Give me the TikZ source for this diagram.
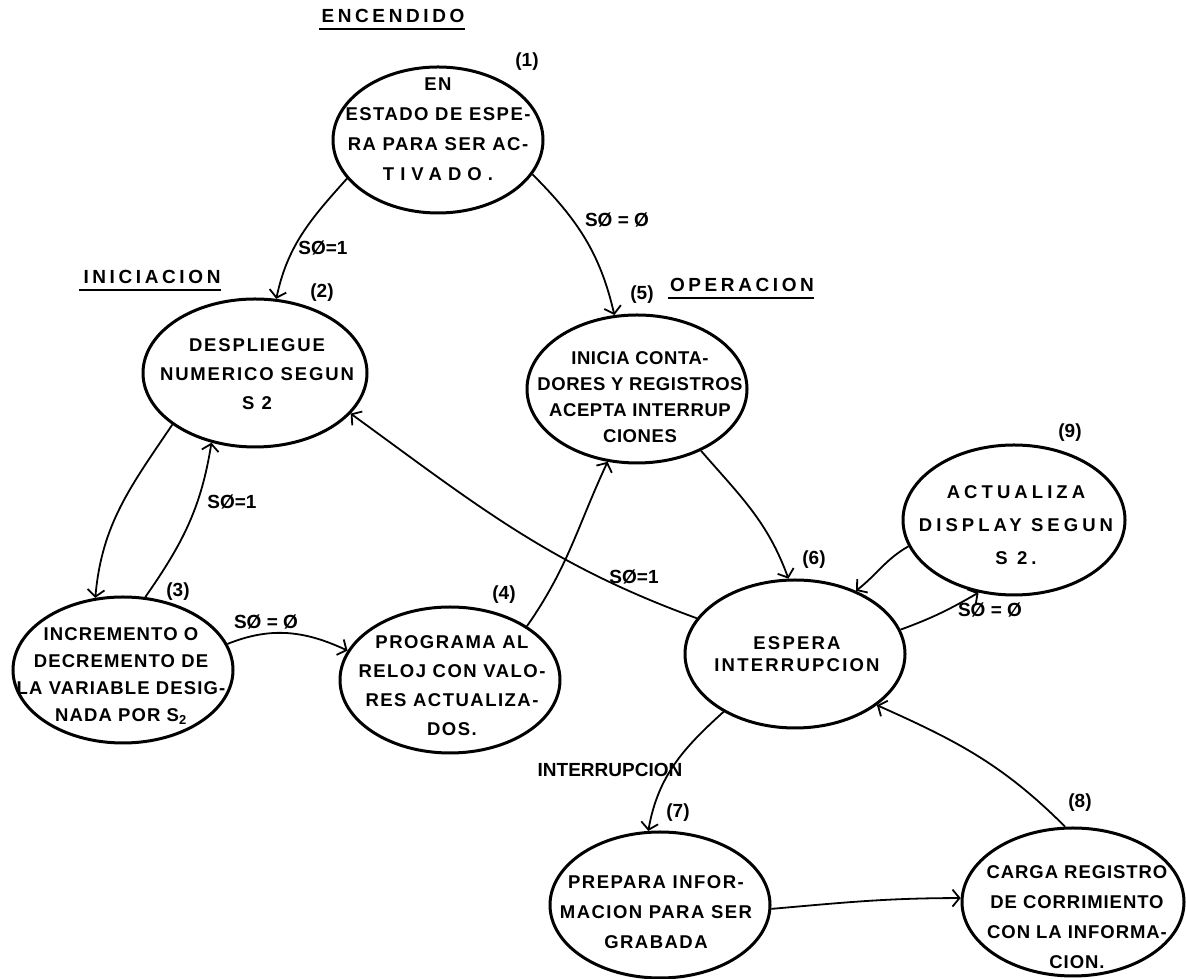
\documentclass[tikz,border=0pt]{standalone}
\usepackage{fontspec}
\setmainfont{Liberation Sans}
\usetikzlibrary{arrows.meta,shapes.geometric}

\tikzset{
  stbox/.style={draw, ellipse, line width=3pt, inner sep=0pt},
  % state text: #1 = line spacing, #2 = letter spacing
  txt/.style 2 args={align=center, inner sep=0pt,
    font=\fontsize{18.5}{#1}\selectfont\bfseries\addfontfeature{LetterSpace=#2}},
  lbl/.style={inner sep=0pt, font=\fontsize{19}{20}\selectfont\bfseries},
  head/.style={inner sep=0pt, font=\fontsize{19}{20}\selectfont\bfseries\addfontfeature{LetterSpace=19}},
  uline/.style={line width=2.2pt},
  tr/.style={line width=1.8pt, -{Straight Barb[length=7pt,width=17pt,line width=1.8pt]}},
}

\begin{document}
\begin{tikzpicture}[x=1pt,y=1pt]
\useasboundingbox (0,0) rectangle (1186,979);
\fill[white] (0,0) rectangle (1186,979);

% section headings
\node[head] (hEnc) at (393,963) {ENCENDIDO};
\node[head] (hIni) at (152,702) {INICIACION};
\node[head] (hOpe) at (742,694) {OPERACION};
\draw[uline] ([yshift=-6pt,xshift=-2pt]hEnc.south west) -- ([yshift=-6pt]hEnc.south east);
\draw[uline] ([yshift=-6pt,xshift=-4pt]hIni.south west) -- ([yshift=-6pt]hIni.south east);
\draw[uline] ([yshift=-6pt,xshift=-2pt]hOpe.south west) -- ([yshift=-6pt]hOpe.south east);

% states
\node[stbox, minimum width=210pt, minimum height=146pt] (s1) at (438,839) {};
\node[stbox, minimum width=224pt, minimum height=148pt] (s2) at (255,606) {};
\node[stbox, minimum width=220pt, minimum height=146pt] (s3) at (123,309) {};
\node[stbox, minimum width=220pt, minimum height=146pt] (s4) at (450,299) {};
\node[stbox, minimum width=220pt, minimum height=148pt] (s5) at (637,590) {};
\node[stbox, minimum width=220pt, minimum height=148pt] (s6) at (795,325) {};
\node[stbox, minimum width=220pt, minimum height=146pt] (s7) at (660,74) {};
\node[stbox, minimum width=222pt, minimum height=148pt] (s8) at (1073,77) {};
\node[stbox, minimum width=222pt, minimum height=150pt] (s9) at (1014,459) {};

% state texts
\node[txt={30}{8}] (t1) at (438,850) {EN\\ESTADO DE ESPE-\\RA PARA SER AC-\\\addfontfeature{LetterSpace=33}TIVADO.};
\node[txt={29}{10}] (t2) at (257,605) {DESPLIEGUE\\NUMERICO SEGUN\\S 2};
\node[txt={27}{6}] (t3) at (121,303) {INCREMENTO O\\DECREMENTO DE\\LA VARIABLE DESIG-\\NADA POR S\textsubscript{2}};
\node[txt={29}{8}] (t4) at (452,293) {PROGRAMA AL\\RELOJ CON VALO-\\RES ACTUALIZA-\\DOS.};
\node[txt={26}{3}] (t5) at (640,582) {INICIA CONTA-\\DORES Y REGISTROS\\ACEPTA INTERRUP\\CIONES};
\node[txt={22}{12}] (t6) at (797,325) {ESPERA\\INTERRUPCION};
\node[txt={30}{8}] (t7) at (656,67) {PREPARA INFOR-\\MACION PARA SER\\GRABADA};
\node[txt={30}{5}] (t8) at (1077,62) {CARGA REGISTRO\\DE CORRIMIENTO\\CON LA INFORMA-\\CION.};
\node[txt={33}{22}] (t9) at (1016,454) {ACTUALIZA\\DISPLAY SEGUN\\S 2.};

% state numbers
\node[lbl] (n1) at (527,917) {(1)};
\node[lbl] (n2) at (322,686) {(2)};
\node[lbl] (n3) at (178,387) {(3)};
\node[lbl] (n4) at (504,384) {(4)};
\node[lbl] (n5) at (642,684) {(5)};
\node[lbl] (n6) at (814,419) {(6)};
\node[lbl] (n7) at (678,166) {(7)};
\node[lbl] (n8) at (1080,176) {(8)};
\node[lbl] (n9) at (1070,546) {(9)};

% transition conditions
\node[lbl] (c12) at (323,731) {SØ=1};
\node[lbl] (c15) at (617,759) {SØ = Ø};
\node[lbl] (c32) at (232,477) {SØ=1};
\node[lbl] (c34) at (266,357) {SØ = Ø};
\node[lbl] (c62) at (634,402) {SØ=1};
\node[lbl] (c69) at (990,369) {SØ = Ø};
\node[lbl] (c67) at (610,209) {INTERRUPCION};

% transitions
\draw[tr] (s1.203.7) to[out=228,in=78] (s2.74.7);
\draw[tr] (s1.340) to[out=315,in=103] (s5.107);
\draw[tr] (s2.212.4) to[out=236,in=85] (s3.111);
\draw[tr] (s3.73) to[out=55,in=261] (s2.238.7);
\draw[tr] (s3.14.6) to[out=22,in=155] (s4.164.5);
\draw[tr] (s4.35) to[out=55,in=245] (s5.248);
\draw[tr] (s5.316.3) to[out=311,in=110] (s6.95);
\draw[tr] (s6.160) to[out=160,in=324] (s2.337.3);
\draw[tr] (s9.194) to[out=210,in=38] (s6.46);
\draw[tr] (s6.13.7) to[out=20,in=210] (s9.244.4);
\draw[tr] (s6.219.8) to[out=222,in=80] (s7.99.3);
\draw[tr] (s7.358.5) to[out=5,in=180] (s8.178);
\draw[tr] (s8.96.2) to[out=135,in=336] (s6.328.6);
\end{tikzpicture}
\end{document}
